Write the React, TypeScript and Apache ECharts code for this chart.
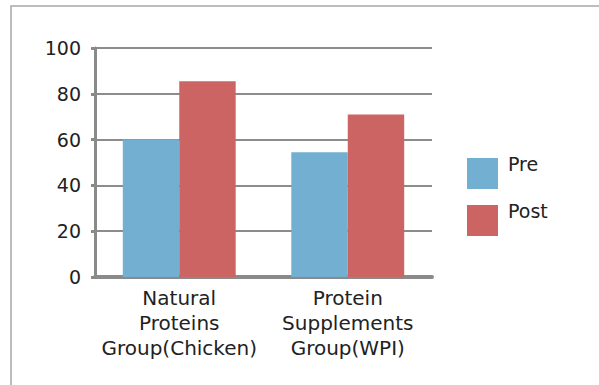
import React, { useEffect, useRef } from "react";
import * as echarts from "echarts";

const categories = ["Natural\nProteins\nGroup(Chicken)", "Protein\nSupplements\nGroup(WPI)"];
const preValues = [60, 54.5];
const postValues = [85.5, 71];
const seriesNames = ["Pre", "Post"];

export default function App() {
  const ref = useRef<HTMLDivElement>(null);
  useEffect(() => {
    document.body.style.margin = "0";
    const chart = echarts.init(ref.current!, null, { renderer: "svg" });
    const font = "DejaVu Sans";
    chart.setOption({
      animation: false,
      backgroundColor: "#ffffff",
      graphic: [
        {
          type: "rect",
          shape: { x: 11, y: 6, width: 700, height: 500 },
          style: { fill: "none", stroke: "#a8a8a8", lineWidth: 1.5 },
          silent: true,
          z: -1,
        },
      ],
      grid: { left: 95, right: 167, top: 48, bottom: 108 },
      legend: {
        orient: "vertical",
        left: 467,
        top: 154,
        padding: 0,
        itemWidth: 31,
        itemHeight: 31,
        itemGap: 8,
        icon: "rect",
        data: seriesNames,
        formatter: "{a|{name}}",
        textStyle: {
          fontFamily: font,
          fontSize: 19,
          color: "#222",
          rich: {
            a: {
              fontFamily: font,
              fontSize: 19,
              color: "#222",
              lineHeight: 11,
              padding: [0, 0, 20, 5],
            },
          },
        },
      },
      xAxis: {
        type: "category",
        data: categories,
        axisLine: { show: true, lineStyle: { color: "#8a8a8a", width: 4 } },
        axisTick: { show: false },
        axisLabel: {
          fontFamily: font,
          fontSize: 20,
          color: "#222",
          lineHeight: 25,
          margin: 8,
          interval: 0,
        },
      },
      yAxis: {
        type: "value",
        min: 0,
        max: 100,
        interval: 20,
        axisLine: { show: true, lineStyle: { color: "#8a8a8a", width: 3 } },
        axisTick: { show: true, length: 4, lineStyle: { color: "#8a8a8a", width: 3 } },
        splitLine: { show: true, lineStyle: { color: "#8c8c8c", width: 2 } },
        axisLabel: { fontFamily: font, fontSize: 19, color: "#222", margin: 14 },
      },
      series: [
        {
          name: seriesNames[0],
          type: "bar",
          data: preValues,
          barGap: "0%",
          barCategoryGap: "33%",
          itemStyle: { color: "#72afd0" },
        },
        {
          name: seriesNames[1],
          type: "bar",
          data: postValues,
          barGap: "0%",
          barCategoryGap: "33%",
          itemStyle: { color: "#cc6464" },
        },
      ],
    });
    return () => chart.dispose();
  }, []);
  return <div ref={ref} style={{ width: 599, height: 385 }} />;
}
